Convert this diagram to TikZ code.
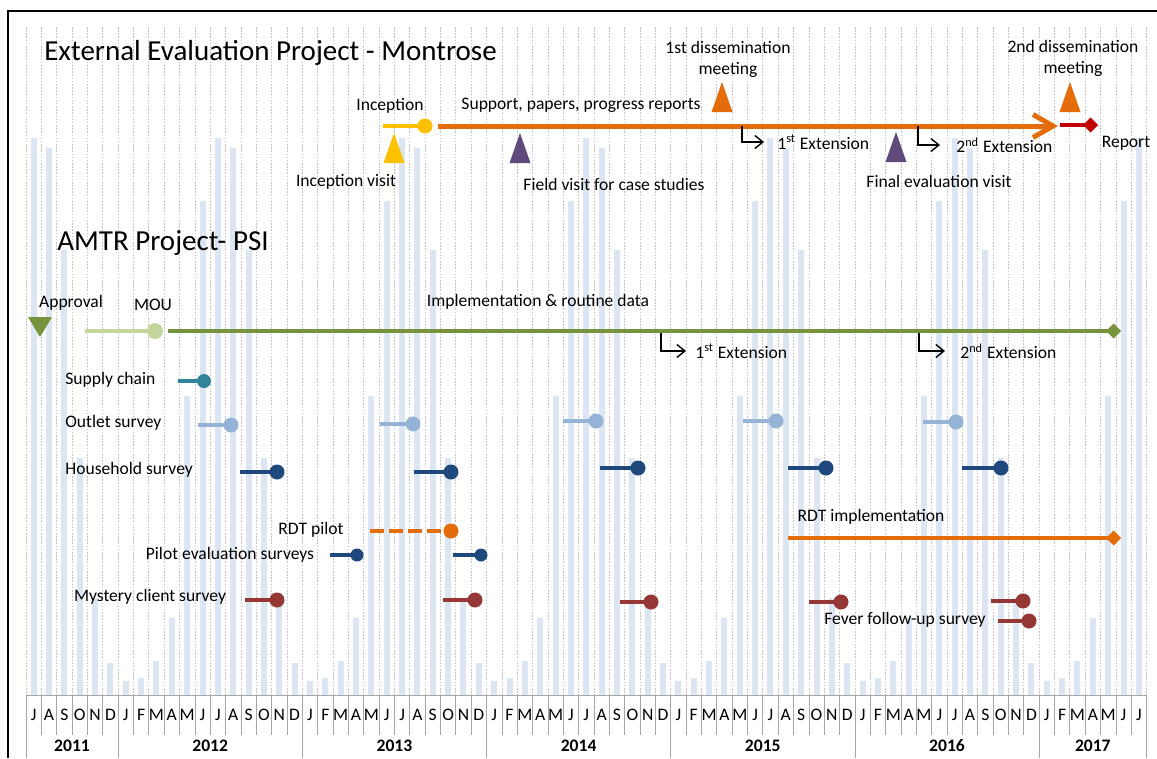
\documentclass[tikz,border=0pt]{standalone}
\usepackage{fontspec}
\setmainfont{Carlito}
\usetikzlibrary{arrows.meta,positioning,shapes.geometric}
\definecolor{cbar}{RGB}{220,230,242}
\definecolor{cgrid}{RGB}{195,195,195}
\definecolor{caxis}{RGB}{166,166,166}
\definecolor{cyel}{RGB}{255,192,0}
\definecolor{corg}{RGB}{228,108,10}
\definecolor{cpurp}{RGB}{96,74,123}
\definecolor{cred}{RGB}{192,0,0}
\definecolor{colive}{RGB}{119,147,60}
\definecolor{clgreen}{RGB}{195,214,155}
\definecolor{cteal}{RGB}{49,133,155}
\definecolor{coutlet}{RGB}{149,179,215}
\definecolor{cnavy}{RGB}{31,73,125}
\definecolor{cbrown}{RGB}{149,55,53}
\newcommand{\mx}[1]{26+15.35*(#1)}
\tikzset{
  lbl/.style={font=\fontsize{10}{12}\selectfont, inner sep=0pt},
  ttl/.style={font=\fontsize{16.5}{20}\selectfont, inner sep=0pt, anchor=west},
  yrl/.style={font=\fontsize{10}{12}\selectfont\bfseries, inner sep=0pt},
  seg/.style={line width=0.085cm},
  dot/.style={circle, inner sep=0pt, minimum size=0.3cm},
  sdot/.style={circle, inner sep=0pt, minimum size=0.26cm},
  ext/.style={-{Straight Barb[length=1.6mm, width=2.6mm]}, line width=0.8pt},
  endd/.style={-{Diamond[length=3mm, width=3mm]}},
  grd/.style={cgrid, line width=0.4pt, dash pattern=on 0.9pt off 0.9pt},
}

\begin{document}
\begin{tikzpicture}[x=0.02cm, y=-0.02cm]
\useasboundingbox (0,0) rectangle (1157,758);
% month grid and seasonal bars
\foreach \m in {0,...,73}
  \draw[grd] ({\mx{\m}},27) -- ({\mx{\m}},695);
\foreach \yr in {2011,...,2017}{
  \foreach \lt/\h [count=\k] in {J/14,F/17,M/34,A/77,M/299,J/494,J/557,A/547,S/445,O/237,N/97,D/32}{
    \pgfmathtruncatemacro\m{(\yr-2011)*12+\k-7}
    \ifnum\m>-1 \ifnum\m<73
      \fill[cbar] ({\mx{\m+0.5}-3},695) rectangle ({\mx{\m+0.5}+3},695-\h);
      \node[lbl] at ({\mx{\m+0.5}},715) {\lt};
    \fi\fi
  }}
% time axis
\draw[caxis] ({\mx{0}},695) -- ({\mx{73}},695);
\foreach \m in {0,...,73}
  \draw[caxis] ({\mx{\m}},695) -- ({\mx{\m}},735);
\foreach \m in {0,6,18,30,42,54,66,73}
  \draw[caxis] ({\mx{\m}},735) -- ({\mx{\m}},758);
\foreach \yr/\c in {2011/3,2012/12,2013/24,2014/36,2015/48,2016/60,2017/69.5}
  \node[yrl] at ({\mx{\c}},746) {\yr};
\draw[line width=0.03cm] (8,758) -- (8,11) -- (1157,11);

% External evaluation
\node[ttl] (evt) at (44,53) {External Evaluation Project - Montrose};
\node[lbl] (incp) at (390,106) {Inception};
\draw[seg, cyel] (383,126) -- (425,126) node[dot, fill=cyel] (incd) {};
\draw[corg, line width=0.1cm, -{Straight Barb[length=4mm, width=4.6mm]}] (438,126) -- (1058,126);
\node[lbl] (supp) at (581,105) {Support, papers, progress reports};
\foreach \x/\y/\c in {394/133/cyel, 520/133/cpurp, 722/82/corg, 896/132/cpurp, 1070/82/corg}
  \fill[\c] (\x-10.5,\y+30) -- (\x,\y) -- (\x+10.5,\y+30) -- cycle;
\node[lbl, align=center] (dis1) at (728,59.5) {1st dissemination\\meeting};
\node[lbl, align=center] (dis2) at (1073,58) {2nd dissemination\\meeting};
\node[lbl, anchor=west] (ext1) at (777,142) {1\textsuperscript{st} Extension};
\draw[ext] (742,126) |- ([xshift=-0.26cm]ext1.west);
\node[lbl, anchor=west] (ext2) at (956,145) {2\textsuperscript{nd} Extension};
\draw[ext] (918,126) |- ([xshift=-0.32cm]ext2.west);
\draw[seg, cred, endd] (1060,125) -- (1098,125);
\node[lbl] (rep) at (1126,143) {Report};
\node[lbl] (incv) at (346,182) {Inception visit};
\node[lbl] (fld) at (614,184) {Field visit for case studies};
\node[lbl] (fin) at (939,181) {Final evaluation visit};

% AMTR project
\node[ttl] (amtr) at (57,243) {AMTR Project- PSI};
\node[lbl] (appr) at (71,303) {Approval};
\fill[colive] (28,317) -- (52,317) -- (40,337) -- cycle;
\node[lbl] (mou) at (153,305) {MOU};
\draw[seg, clgreen] (85,331) -- (155,331) node[dot, fill=clgreen, minimum size=0.32cm] (moud) {};
\draw[seg, colive, endd] (168,331) -- (1121,331);
\node[lbl] (impl) at (538,302) {Implementation \& routine data};
\node[lbl, anchor=west] (ext3) at (695,351) {1\textsuperscript{st} Extension};
\draw[ext] (661,333) |- ([xshift=-0.18cm]ext3.west);
\node[lbl, anchor=west] (ext4) at (960,351) {2\textsuperscript{nd} Extension};
\draw[ext] (919,333) |- ([xshift=-0.3cm]ext4.west);

\node[lbl, anchor=west] (sup) at (65,380) {Supply chain};
\draw[seg, cteal] (178,381) -- (204,381) node[dot, fill=cteal, minimum size=0.28cm] (supd) {};
\node[lbl, anchor=west] (out) at (65,423) {Outlet survey};
\foreach \a/\b/\y in {198/231/425, 380/413/424, 563/596/421, 743/776/421, 923/956/422}
  \draw[seg, coutlet] (\a,\y) -- (\b,\y) node[dot, fill=coutlet] {};
\node[lbl, anchor=west] (hh) at (65,470) {Household survey};
\foreach \a/\b/\y in {240/277/472, 414/451/472, 600/638/468, 788/826/468, 962/1001/468}
  \draw[seg, cnavy] (\a,\y) -- (\b,\y) node[dot, fill=cnavy] {};
\node[lbl] (rdtp) at (311,530) {RDT pilot};
\draw[seg, corg, dash pattern=on 0.28cm off 0.1cm] (370,531) -- (451,531) node[dot, fill=corg] (rdtd) {};
\node[lbl] (pev) at (230,555) {Pilot evaluation surveys};
\foreach \a/\b in {330/357, 453/481}
  \draw[seg, cnavy] (\a,555) -- (\b,555) node[sdot, fill=cnavy] {};
\node[lbl] (rdti) at (871,517) {RDT implementation};
\draw[seg, corg, endd] (788,538) -- (1121,538);
\node[lbl] (mys) at (150,597) {Mystery client survey};
\foreach \a/\b/\y in {245/277/600, 443/475/600, 620/651/602, 809/841/602, 991/1023/601}
  \draw[seg, cbrown] (\a,\y) -- (\b,\y) node[dot, fill=cbrown] {};
\node[lbl] (fev) at (905,620) {Fever follow-up survey};
\draw[seg, cbrown] (998,621) -- (1029,621) node[dot, fill=cbrown] (fevd) {};
\end{tikzpicture}
\end{document}
